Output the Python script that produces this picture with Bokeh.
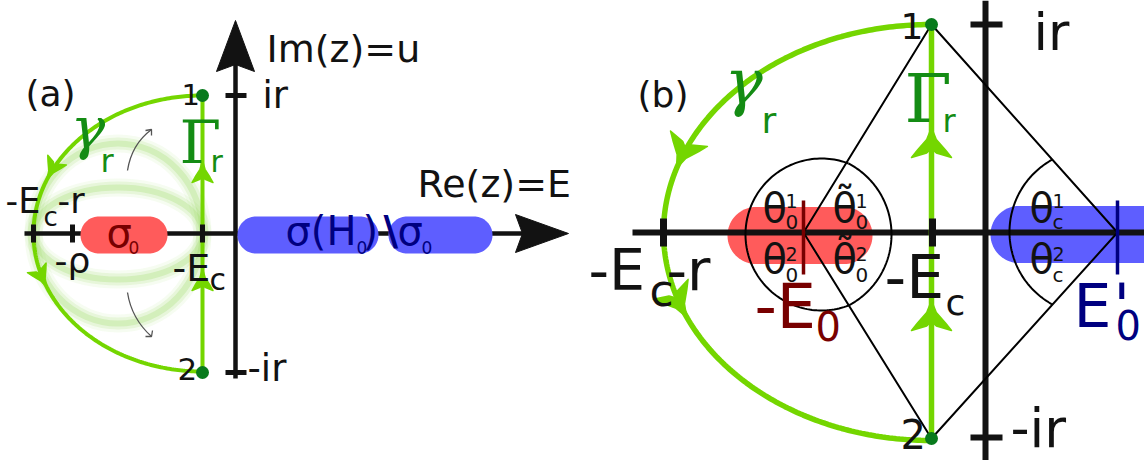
import numpy as np
from bokeh.plotting import figure
from bokeh.models import Range1d
from bokeh.embed import file_html
from bokeh.resources import INLINE
from bokeh.core.properties import value

# ---------------- data (diagram geometry, in reference pixel units) ----------------
# panel (a)
A_axis_y = 233
A_axis_x = 235
A_hticks = [33, 72, 202]            # -Ec-r, -rho, -Ec
A_vticks = [95, 372]                # ir, -ir
A_gamma_ell = [202, 233, 169, 138]  # cx, cy, a, b
A_pts_x = [202, 202]
A_pts_y = [95, 372]
A_blur_b = [46, 90]                 # half-heights of deformation ellipses
A_arc_darts_t = [157, 203]
A_line_darts_y = [160, 268]
A_red_pill = [80, 167]
A_blue_pills = [[237, 378], [388, 492]]

# panel (b)
B_axis_y = 232
B_axis_x = 985
B_hticks = [663, 932]
B_vticks = [24, 437]
B_gamma_ell = [931, 232, 268, 208]
B_pts_x = [931, 931]
B_pts_y = [24, 438]
B_E0 = 803
B_E0p = 1117
B_arc_darts_t = [162, 204]
B_line_darts_y = [127, 300]
B_red_pill = [727, 872]
B_blue_pill = [990, 1180]
# lens arcs: (start, through, end)
B_lens = [
    [(848, 163), (745, 233), (848, 305)],
    [(848, 163), (891, 233), (848, 305)],
    [(1052, 159), (1009, 232), (1052, 304)],
]

GREEN = "#74d600"
DOT = "#087a1c"
LGREEN = "#148c14"
BLACK = "#121212"
RED = "#ff5b5b"
DRED = "#780000"
BLUE = "#5e5eff"
NAVY = "#000080"

W, H = 1144, 460
p = figure(width=W, height=H, x_range=Range1d(0, W), y_range=Range1d(H, 0),
           output_backend="svg", toolbar_location=None, min_border=0,
           x_axis_location=None, y_axis_location=None)
p.grid.visible = False
p.outline_line_color = None

BASE_K = 0.36   # renderer places alphabetic baseline lower; compensate


def txt(x, y, s, size, color=BLACK, font="DejaVu Sans", style="normal"):
    p.text(x=[x], y=[y - BASE_K * size], text=[s], text_font=value(font),
           text_font_size=f"{size}px", text_color=color, text_align="left",
           text_baseline="alphabetic", text_font_style=style)


def ell_pts(cx, cy, a, b, t0, t1, n=240):
    t = np.radians(np.linspace(t0, t1, n))
    return cx + a * np.cos(t), cy - b * np.sin(t)


def dart(tx, ty, dx, dy, L, Wd, color):
    d = np.array([dx, dy], float)
    d /= np.linalg.norm(d)
    n = np.array([-d[1], d[0]])
    T = np.array([tx, ty], float)
    pts = [T,
           T - 0.40 * L * d + 0.12 * Wd * n,
           T - 0.75 * L * d + 0.35 * Wd * n,
           T - 1.0 * L * d + 0.5 * Wd * n,
           T - 0.85 * L * d + 0.12 * Wd * n,
           T - 0.70 * L * d,
           T - 0.85 * L * d - 0.12 * Wd * n,
           T - 1.0 * L * d - 0.5 * Wd * n,
           T - 0.75 * L * d - 0.35 * Wd * n,
           T - 0.40 * L * d - 0.12 * Wd * n]
    p.patch([q[0] for q in pts], [q[1] for q in pts], fill_color=color, line_color=color,
            line_width=1.5, line_join="round")


def pill(x0, x1, yc, h, color):
    r = h / 2
    t1 = np.linspace(np.pi / 2, 3 * np.pi / 2, 40)
    t2 = np.linspace(-np.pi / 2, np.pi / 2, 40)
    xs = np.concatenate([x0 + r + r * np.cos(t1), x1 - r + r * np.cos(t2)])
    ys = np.concatenate([yc - r * np.sin(t1), yc - r * np.sin(t2)])
    p.patch(xs, ys, fill_color=color, line_color=None)


def circ3(p1, p2, p3, n=120):
    (x1, y1), (x2, y2), (x3, y3) = p1, p2, p3
    d = 2 * (x1 * (y2 - y3) + x2 * (y3 - y1) + x3 * (y1 - y2))
    ux = ((x1**2 + y1**2) * (y2 - y3) + (x2**2 + y2**2) * (y3 - y1) + (x3**2 + y3**2) * (y1 - y2)) / d
    uy = ((x1**2 + y1**2) * (x3 - x2) + (x2**2 + y2**2) * (x1 - x3) + (x3**2 + y3**2) * (x2 - x1)) / d
    R = np.hypot(x1 - ux, y1 - uy)
    a1 = np.arctan2(y1 - uy, x1 - ux)
    a2 = np.arctan2(y2 - uy, x2 - ux)
    a3 = np.arctan2(y3 - uy, x3 - ux)

    def norm(a):
        return (a - a1) % (2 * np.pi)
    if norm(a2) < norm(a3):
        ts = np.linspace(a1, a1 + norm(a3), n)
    else:
        ts = np.linspace(a1, a1 - (2 * np.pi - norm(a3)), n)
    return ux + R * np.cos(ts), uy + R * np.sin(ts)


# ======================= panel (a) =======================
cx, cy, a, b = A_gamma_ell
ecx = (A_hticks[0] + A_hticks[2]) / 2
ew = A_hticks[2] - A_hticks[0]
for bb in A_blur_b:
    for lw, al in [(18, 0.08), (12, 0.14), (6, 0.22)]:
        p.ellipse(x=[ecx], y=[cy], width=[ew], height=[2 * bb], fill_color=None,
                  line_color="#8ed84c", line_width=lw, line_alpha=al)

# small gray deformation arrows
p.quadratic(x0=[127, 127], y0=[170, 292], x1=[151, 151], y1=[129, 336],
            cx=[131, 131], cy=[144, 318], line_color="#555555", line_width=1.3)
p.multi_line(xs=[[145, 151, 151], [145, 151, 152]], ys=[[130, 129, 135], [336, 336, 330]],
             line_color="#555555", line_width=1.3)

# gamma_r arc and Gamma_r line
gx, gy = ell_pts(cx, cy, a, b, 90, 270)
p.line(gx, gy, line_color=GREEN, line_width=4)
p.line(A_pts_x, A_pts_y, line_color=GREEN, line_width=4)
for tdeg in A_arc_darts_t:
    t = np.radians(tdeg)
    dart(cx + a * np.cos(t), cy - b * np.sin(t), -a * np.sin(t), -b * np.cos(t), 22, 21, GREEN)
for yy in A_line_darts_y:
    dart(A_pts_x[0], yy, 0, -1, 22, 21, GREEN)

# axes
p.line([24, 560], [A_axis_y, A_axis_y], line_color=BLACK, line_width=4.5)
p.line([A_axis_x, A_axis_x], [60, 378], line_color=BLACK, line_width=4.5)
p.patch([235, 216, 235, 254], [20, 71, 64, 71], fill_color=BLACK, line_color=BLACK)
p.patch([568, 515, 522, 515], [233, 214, 233, 252], fill_color=BLACK, line_color=BLACK)
p.multi_line(xs=[[x, x] for x in A_hticks], ys=[[224, 242]] * len(A_hticks),
             line_color=BLACK, line_width=5)
p.multi_line(xs=[[225, 246]] * len(A_vticks), ys=[[y, y] for y in A_vticks],
             line_color=BLACK, line_width=5)

# spectra pills
pill(A_red_pill[0], A_red_pill[1], 234.5, 37, RED)
for x0, x1 in A_blue_pills:
    pill(x0, x1, 234.5, 37, BLUE)
txt(106, 247, "σ", 40, DRED)
txt(128, 253, "0", 17, DRED)
txt(285, 245, "σ(H", 40, NAVY)
txt(356, 253, "0", 17, NAVY)
txt(362, 245, ")", 40, NAVY)
txt(383, 245, "\\", 40, NAVY, style="bold")
txt(397, 245, "σ", 40, NAVY)
txt(421, 253, "0", 17, NAVY)

# points
p.scatter(A_pts_x, A_pts_y, size=13, fill_color=DOT, line_color=None)

# labels (a)
txt(25, 106, "(a)", 36)
txt(266, 62, "Im(z)=u", 38)
txt(417, 197, "Re(z)=E", 38)
txt(262, 108, "ir", 37)
txt(247, 381, "-ir", 37)
txt(181, 104, "1", 29)
txt(177, 380, "2", 31)
txt(5, 213, "-E", 35)
txt(43, 226, "c", 26)
txt(57, 213, "-r", 35)
txt(54, 273, "-ρ", 36)
txt(172, 281, "-E", 38)
txt(209, 290, "c", 30)
txt(70, 148, "γ", 58, LGREEN, font="DejaVu Serif", style="italic")
txt(100, 172, "r", 32, LGREEN)
txt(179, 163, "Γ", 60, LGREEN, font="DejaVu Serif")
txt(210, 172, "r", 30, LGREEN)

# ======================= panel (b) =======================
pill(B_red_pill[0], B_red_pill[1], 235, 57, RED)
pill(B_blue_pill[0], B_blue_pill[1], 234, 57, BLUE)

p.line([632, 1150], [B_axis_y, B_axis_y], line_color=BLACK, line_width=6)
p.line([B_axis_x, B_axis_x], [0, 460], line_color=BLACK, line_width=6)

# rhombus lines
top = (B_pts_x[0], B_pts_y[0])
bot = (B_pts_x[1], B_pts_y[1])
p.multi_line(xs=[[top[0], B_E0, bot[0]], [top[0], B_E0p, bot[0]]],
             ys=[[top[1], B_axis_y, bot[1]], [top[1], B_axis_y, bot[1]]],
             line_color="black", line_width=2)
for P1, P2, P3 in B_lens:
    lx, ly = circ3(P1, P2, P3)
    p.line(lx, ly, line_color="black", line_width=2)

# colored markers at -E0 and E0'
p.line([B_E0, B_E0], [200, 274], line_color=DRED, line_width=3.5)
p.line([B_E0p, B_E0p], [200, 274], line_color=NAVY, line_width=3.5)

# green contours
cx, cy, a, b = B_gamma_ell
gx, gy = ell_pts(cx, cy, a, b, 90, 270)
p.line(gx, gy, line_color=GREEN, line_width=5.5)
p.line(B_pts_x, B_pts_y, line_color=GREEN, line_width=5.5)
for tdeg in B_arc_darts_t:
    t = np.radians(tdeg)
    dart(cx + a * np.cos(t), cy - b * np.sin(t), -a * np.sin(t), -b * np.cos(t), 32, 40, GREEN)
for yy in B_line_darts_y:
    dart(B_pts_x[0], yy, 0, -1, 30, 40, GREEN)

# ticks
p.multi_line(xs=[[x, x] for x in B_hticks], ys=[[218, 246]] * len(B_hticks),
             line_color=BLACK, line_width=7)
p.multi_line(xs=[[970, 1002]] * len(B_vticks), ys=[[y, y] for y in B_vticks],
             line_color=BLACK, line_width=6)

p.scatter(B_pts_x, B_pts_y, size=13, fill_color=DOT, line_color=None)

# theta labels
for xt, tl, sub in [(762, "θ", "0"), (832, "θ\u0303", "0"), (1029, "θ", "c")]:
    xs = xt + 23
    txt(xt, 222, tl, 40)
    txt(xs, 207, "1", 19)
    txt(xs, 229, sub, 20)
    txt(xt, 273, tl, 40)
    txt(xs, 260, "2", 19)
    txt(xs, 282, sub, 20)

# labels (b)
txt(637, 107, "(b)", 36)
txt(724, 105, "γ", 64, LGREEN, font="DejaVu Serif", style="italic")
txt(761, 133, "r", 36, LGREEN)
txt(904, 122, "Γ", 68, LGREEN, font="DejaVu Serif")
txt(942, 132, "r", 32, LGREEN)
txt(900, 38, "1", 36)
txt(900, 448, "2", 40)
txt(1010, 447, "-ir", 53)
txt(588, 290, "-E", 57)
txt(649, 306, "c", 44)
txt(666, 290, "-r", 57)
txt(884, 298, "-E", 60)
txt(945, 315, "c", 36)
txt(754, 328, "-E", 62, DRED)
txt(815, 340, "0", 40, DRED)
txt(1073, 327, "E", 60, NAVY)
txt(1113, 327, "'", 60, NAVY)
txt(1115, 339, "0", 40, NAVY)
txt(1033, 50, "ir", 52)

open("out.html", "w").write(file_html(p, INLINE))
